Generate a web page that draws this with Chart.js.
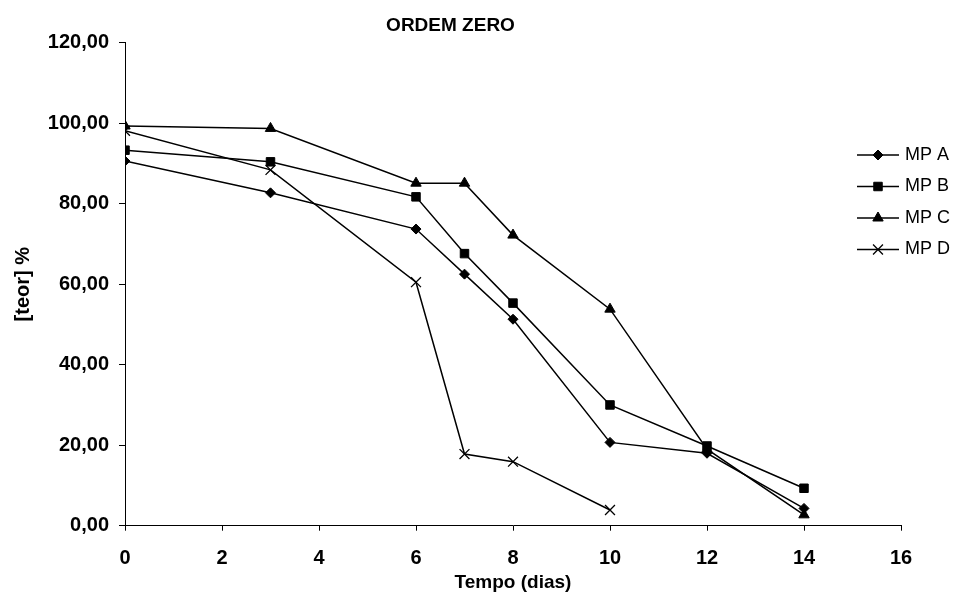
<!DOCTYPE html>
<html>
<head>
<meta charset="utf-8">
<script src="https://cdn.jsdelivr.net/npm/chart.js@4/dist/chart.umd.min.js"></script>
<style>
  html, body { margin: 0; padding: 0; background: #fff; }
  canvas { display: block; }
</style>
</head>
<body>
<canvas id="grafico" width="956" height="592"></canvas>
<script>
// dados
const tempo = [0, 3, 6, 7, 8, 10, 12, 14];
const mpA = [90.6, 82.7, 73.7, 62.5, 51.3, 20.7, 18.0, 4.3];
const mpB = [93.3, 90.4, 81.7, 67.6, 55.3, 30.0, 19.8, 9.3];
const mpC = [99.3, 98.7, 85.1, 85.1, 72.2, 53.8, 19.0, 2.7];
const mpD = [98.1, 88.4, 60.5, 17.8, 15.9, 3.9];
const series = ['MP A', 'MP B', 'MP C', 'MP D'];
const estilos = ['rectRot', 'rect', 'triangle', 'crossRot'];
const raios = [5, 6, 6, 7];

const fonte = '"Liberation Sans", Arial, sans-serif';
const valores = [mpA, mpB, mpC, mpD];

const datasets = series.map((nome, i) => ({
  label: nome,
  data: valores[i].map((v, j) => ({ x: tempo[j], y: v })),
  borderColor: '#000',
  backgroundColor: '#000',
  borderWidth: 1.5,
  pointStyle: estilos[i],
  pointRadius: raios[i],
  pointBorderWidth: i === 3 ? 1.3 : 1,
  pointBackgroundColor: '#000',
  pointBorderColor: '#000',
  tension: 0,
  fill: false
}));

// legenda desenhada à direita, sobre a área do gráfico
const legendaDireita = {
  id: 'legendaDireita',
  afterDraw(chart) {
    const ctx = chart.ctx;
    ctx.save();
    chart.data.datasets.forEach((ds, i) => {
      const y = 155 + i * 31.5;
      ctx.strokeStyle = '#000';
      ctx.fillStyle = '#000';
      ctx.lineWidth = 1.5;
      ctx.beginPath();
      ctx.moveTo(857, y);
      ctx.lineTo(899, y);
      ctx.stroke();
      ctx.lineWidth = ds.pointBorderWidth;
      Chart.helpers.drawPoint(ctx, {
        pointStyle: ds.pointStyle,
        radius: ds.pointRadius,
        borderWidth: ds.pointBorderWidth,
        rotation: 0
      }, 878, y);
      ctx.font = '18px ' + fonte;
      ctx.textBaseline = 'middle';
      ctx.textAlign = 'left';
      ctx.fillText(ds.label, 905, y);
    });
    ctx.restore();
  }
};

new Chart(document.getElementById('grafico').getContext('2d'), {
  type: 'line',
  data: { datasets: datasets },
  plugins: [legendaDireita],
  options: {
    responsive: false,
    animation: false,
    layout: { padding: { left: 0, right: 55, top: 0, bottom: 0 } },
    plugins: {
      legend: { display: false },
      tooltip: { enabled: false },
      title: {
        display: true,
        text: 'ORDEM ZERO',
        color: '#000',
        font: { family: fonte, size: 19, weight: 'bold' },
        padding: { top: 14.6, bottom: 5.3 }
      }
    },
    scales: {
      x: {
        type: 'linear',
        min: 0,
        max: 16,
        ticks: {
          stepSize: 2,
          color: '#000',
          padding: 16,
          font: { family: fonte, size: 20, weight: 'bold' }
        },
        grid: { drawOnChartArea: false, drawTicks: true, tickLength: 5, color: '#000' },
        border: { display: true, color: '#000', width: 1 },
        title: {
          display: true,
          text: 'Tempo (dias)',
          color: '#000',
          font: { family: fonte, size: 19, weight: 'bold' },
          padding: { top: 0, bottom: -2 }
        },
        afterFit(scale) { scale.height = 66.3; }
      },
      y: {
        min: 0,
        max: 120,
        ticks: {
          stepSize: 20,
          color: '#000',
          padding: 10,
          font: { family: fonte, size: 20, weight: 'bold' },
          callback: (v) => v.toFixed(2).replace('.', ',')
        },
        grid: { drawOnChartArea: false, drawTicks: true, tickLength: 6, color: '#000' },
        border: { display: true, color: '#000', width: 1 },
        title: {
          display: true,
          text: '[teor] %',
          color: '#000',
          font: { family: fonte, size: 20, weight: 'bold' },
          padding: { top: 11, bottom: 0 }
        },
        afterFit(scale) { scale.width = 125; }
      }
    }
  }
});
</script>
</body>
</html>
